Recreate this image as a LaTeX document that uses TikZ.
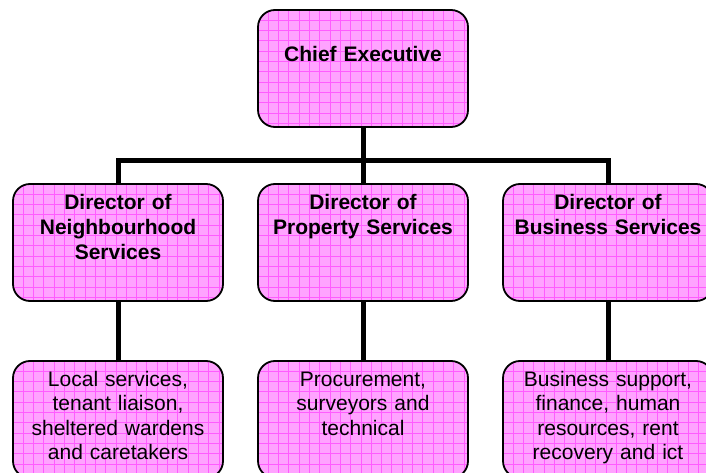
\documentclass[tikz,border=0pt]{standalone}
\usepackage{fontspec}
\setmainfont{Liberation Sans}
\usetikzlibrary{backgrounds}

\definecolor{boxfill}{HTML}{FFA3FF}
\definecolor{boxgrid}{HTML}{FF5CFF}

\tikzset{
  % rounded box outline, text anchored near the top
  orgbox/.style={
    draw=black, line width=1.8bp, outer sep=0pt,
    rounded corners=17bp, anchor=north west,
    inner sep=0pt, text width=210bp, align=center,
    text height=26bp, text depth=91bp
  },
  headbox/.style={orgbox, font=\fontsize{21bp}{25bp}\selectfont\bfseries},
  chiefbox/.style={headbox, text height=52bp, text depth=65bp},
  teambox/.style={orgbox, font=\fontsize{21bp}{24.2bp}\selectfont,
    text height=25.7bp, text depth=91.3bp},
  conn/.style={draw=black, line width=5bp},
  gridline/.style={draw=boxgrid, line width=0.9bp}
}

\begin{document}
\begin{tikzpicture}[x=1bp, y=-1bp]
  \useasboundingbox (0,0) rectangle (706,473);
  \clip (0,0) rectangle (706,473);

  % top level
  \node[chiefbox] (ce) at (258,10) {Chief Executive};

  % directors
  \node[headbox] (dn) at (13,184)  {Director of\\Neighbourhood\\Services};
  \node[headbox] (dp) at (258,184) {Director of\\Property Services};
  \node[headbox] (db) at (503,184) {Director of\\Business Services};

  % service areas
  \node[teambox] (tn) at (13,361)  {Local services,\\tenant liaison,\\sheltered wardens\\and caretakers};
  \node[teambox] (tp) at (258,361) {Procurement,\\surveyors and\\technical};
  \node[teambox] (tb) at (503,361) {Business support,\\finance, human\\resources, rent\\recovery and ict};

  \coordinate (bus) at (363,160.5);

  \begin{scope}[on background layer]
    % reporting lines
    \draw[conn] (ce.south) -- (dp.north);
    \draw[conn] (dn.north) |- (bus) -| (db.north);
    \draw[conn] (dn.south) -- (tn.north);
    \draw[conn] (dp.south) -- (tp.north);
    \draw[conn] (db.south) -- (tb.north);

    % pink fill with a fine grid inside every box
    \foreach \n in {ce,dn,dp,db,tn,tp,tb} {
      \begin{scope}
        \clip[rounded corners=17bp] (\n.north west) rectangle (\n.south east);
        \fill[boxfill] (\n.north west) rectangle (\n.south east);
        \foreach \k in {1,...,21}
          \draw[gridline] ([xshift=\k*10.3bp]\n.north west) -- ([xshift=\k*10.3bp]\n.south west);
        \foreach \k in {1,...,12}
          \draw[gridline] ([yshift=-\k*10.3bp]\n.north west) -- ([yshift=-\k*10.3bp]\n.north east);
      \end{scope}
    }
  \end{scope}
\end{tikzpicture}
\end{document}
